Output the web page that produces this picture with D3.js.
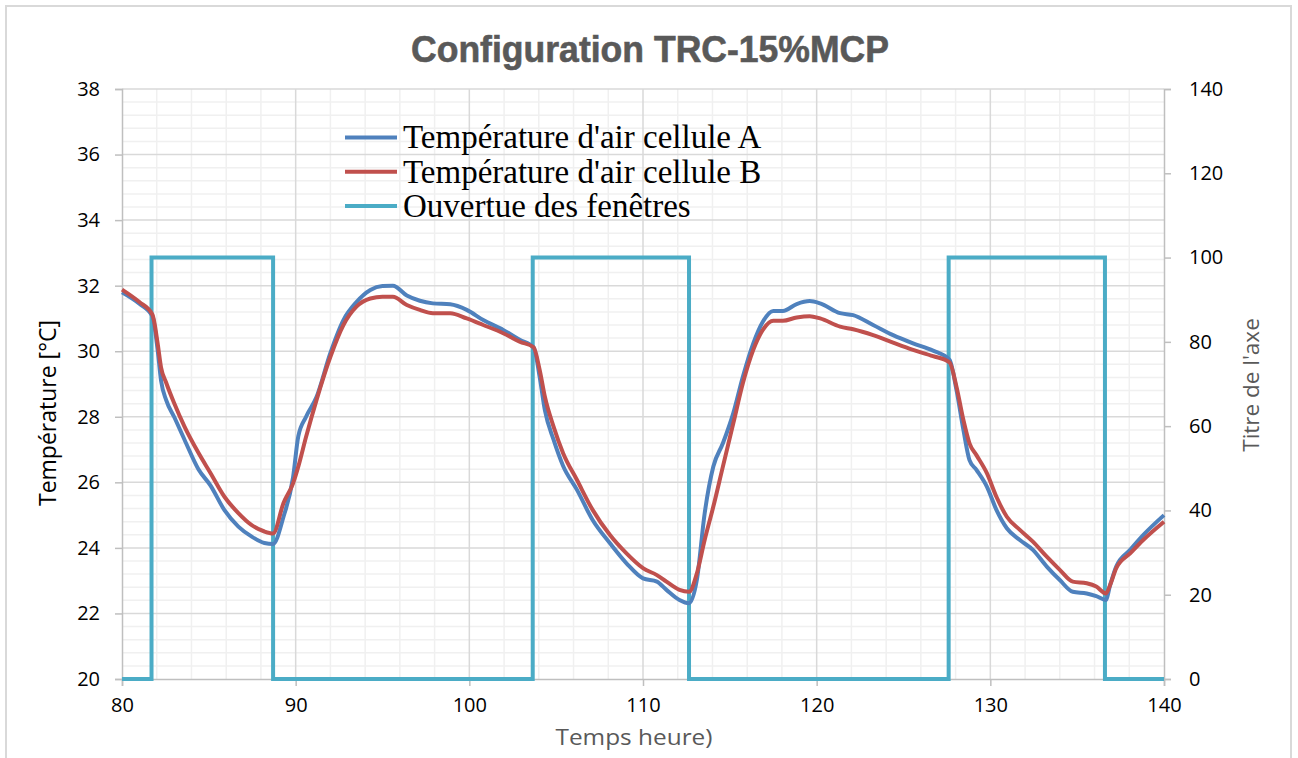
<!DOCTYPE html>
<html>
<head>
<meta charset="utf-8">
<script src="https://cdn.jsdelivr.net/npm/d3@7"></script>
<style>
    body { margin: 0; background: #fff; }
    svg { display: block; }
</style>
</head>
<body>
<svg id="chart" width="1298" height="758"></svg>
<script>
// data
var hours = [80, 81, 81.75, 82.05, 82.25, 82.55, 83.0, 83.6, 84.4, 85.1, 85.9, 86.7, 87.45, 88.2, 88.7,
    89.3, 89.85, 90.15, 90.6, 91.2, 92.0, 92.75, 93.5, 94.3, 95.0, 95.6, 96.4, 97.15, 97.9, 98.9, 99.85,
    100.8, 101.95, 102.9, 103.7, 104.05, 104.35, 104.85, 105.4, 106.2, 107.1, 108.1, 109.05, 110.0, 110.8,
    111.35, 112.1, 112.65, 113.1, 113.55, 114.05, 114.6, 115.2, 115.75, 116.35, 116.9, 117.5, 118.05, 118.85,
    119.6, 120.2, 121.35, 122.1, 123.25, 124.4, 125.55, 126.7, 127.65, 128.05, 128.45, 128.8, 129.2, 129.8,
    130.35, 130.95, 131.7, 132.45, 133.25, 134.0, 134.75, 135.55, 136.1, 136.65, 136.9, 137.25, 138.05, 138.8, 140]

var tempA = [31.8, 31.45, 31.07, 30.05, 29.1, 28.5, 28.0, 27.3, 26.4, 25.9, 25.15, 24.65, 24.35, 24.15, 24.12,
    24.95, 26.15, 27.4, 28.0, 28.6, 29.95, 30.95, 31.5, 31.87, 31.99, 32.0, 31.7, 31.54, 31.46, 31.43, 31.26,
    30.95, 30.65, 30.35, 30.12, 29.22, 28.2, 27.3, 26.5, 25.77, 24.85, 24.14, 23.53, 23.07, 22.97,
    22.72, 22.41, 22.31, 23.02, 25.05, 26.48, 27.19, 28.11, 29.22, 30.24, 30.9, 31.23, 31.23, 31.44,
    31.53, 31.46, 31.16, 31.1, 30.8, 30.49, 30.24, 30.02, 29.74, 28.82, 27.6, 26.68, 26.38, 25.87,
    25.16, 24.6, 24.24, 23.94, 23.43, 23.02, 22.66, 22.61, 22.53, 22.41, 22.87, 23.43, 23.94, 24.39, 25.0]

var tempB = [31.88, 31.5, 31.12, 30.25, 29.5, 29.03, 28.42, 27.7, 26.9, 26.28, 25.56, 25.06, 24.7, 24.5, 24.44,
    25.37, 25.97, 26.48, 27.39, 28.51, 29.83, 30.8, 31.36, 31.61, 31.66, 31.66, 31.41, 31.26, 31.16, 31.16, 31.0,
    30.8, 30.55, 30.29, 30.12, 29.43, 28.61, 27.7, 26.89, 26.07, 25.16, 24.39, 23.83, 23.38, 23.17,
    22.97, 22.72, 22.66, 23.22, 24.24, 25.26, 26.48, 27.8, 29.02, 30.04, 30.65, 30.93, 30.93, 31.03,
    31.07, 31.0, 30.75, 30.67, 30.49, 30.26, 30.04, 29.85, 29.66, 28.92, 27.9, 27.19, 26.83, 26.28,
    25.56, 24.95, 24.55, 24.19, 23.73, 23.33, 22.97, 22.92, 22.82, 22.61, 22.87, 23.38, 23.83, 24.24, 24.8]

// window opening (right axis), step after each hour
var windowHours = [80, 81.7, 88.7, 103.65, 112.65, 127.6, 136.6, 140]
var windowOpen = [0, 100, 0, 100, 0, 100, 0, 0]

var xTicks = [80, 90, 100, 110, 120, 130, 140]
var tempTicks = [20, 22, 24, 26, 28, 30, 32, 34, 36, 38]
var rightTicks = [0, 20, 40, 60, 80, 100, 120, 140]

var seriesNames = ["Température d'air cellule A", "Température d'air cellule B", "Ouvertue des fenêtres"]
var seriesColors = ["#4f81bd", "#c0504d", "#4bacc6"]

var plotLeft = 122, plotRight = 1164, plotTop = 89, plotBottom = 679

var svg = d3.select("#chart")

// outer frame
svg.append("rect")
    .attr("x", 6).attr("y", 6)
    .attr("width", 1285).attr("height", 780)
    .style("fill", "none")
    .style("stroke", "#d9d9d9")
    .style("stroke-width", 2)

var x = d3.scaleLinear().domain([80, 140]).range([plotLeft, plotRight])
var y = d3.scaleLinear().domain([20, 38]).range([plotBottom, plotTop])
var y2 = d3.scaleLinear().domain([0, 140]).range([plotBottom, plotTop])

// grid
var grid = svg.append("g")
grid.selectAll(".vminor")
    .data(d3.range(82, 140, 2).filter(function(d) { return d % 10 != 0 }))
    .enter().append("line")
    .attr("x1", x).attr("x2", x)
    .attr("y1", plotTop).attr("y2", plotBottom)
    .style("stroke", "#f0f0f0").style("stroke-width", 1.5)
grid.selectAll(".hminor")
    .data(d3.range(0, 45).map(function(i) { return 20 + i * 0.4 }).filter(function(d) { return Math.abs(d / 2 - Math.round(d / 2)) > 0.01 }))
    .enter().append("line")
    .attr("x1", plotLeft).attr("x2", plotRight)
    .attr("y1", y).attr("y2", y)
    .style("stroke", "#f0f0f0").style("stroke-width", 1.5)
grid.selectAll(".vmajor")
    .data(xTicks.slice(1, -1))
    .enter().append("line")
    .attr("x1", x).attr("x2", x)
    .attr("y1", plotTop).attr("y2", plotBottom)
    .style("stroke", "#d9d9d9").style("stroke-width", 1.5)
grid.selectAll(".hmajor")
    .data(tempTicks.slice(1))
    .enter().append("line")
    .attr("x1", plotLeft).attr("x2", plotRight)
    .attr("y1", y).attr("y2", y)
    .style("stroke", "#d9d9d9").style("stroke-width", 1.5)

// axes
var tickFont = "'Open Sans', sans-serif"

var xAxis = svg.append("g")
    .attr("transform", "translate(0," + plotBottom + ")")
    .call(d3.axisBottom(x).tickValues(xTicks).tickSize(7).tickPadding(12))
var yAxis = svg.append("g")
    .attr("transform", "translate(" + plotLeft + ",0)")
    .call(d3.axisLeft(y).tickValues(tempTicks).tickSize(7).tickPadding(15))
var y2Axis = svg.append("g")
    .attr("transform", "translate(" + plotRight + ",0)")
    .call(d3.axisRight(y2).tickValues(rightTicks).tickSize(7).tickPadding(18))

;[xAxis, yAxis, y2Axis].forEach(function(a) {
    a.select(".domain").style("stroke", "#bfbfbf").style("stroke-width", 1.5)
    a.selectAll(".tick line").style("stroke", "#bfbfbf").style("stroke-width", 1.5)
    a.selectAll(".tick text")
        .style("font-family", tickFont)
        .style("font-size", "20px")
        .style("fill", "#000")
})

// lines
var windowLine = d3.line()
    .x(function(d, i) { return x(windowHours[i]) })
    .y(function(d) { return y2(d) })
    .curve(d3.curveStepAfter)

svg.append("path")
    .datum(windowOpen)
    .attr("d", windowLine)
    .style("fill", "none")
    .style("stroke", seriesColors[2])
    .style("stroke-width", 4)

var tempLine = d3.line()
    .x(function(d, i) { return x(hours[i]) })
    .y(function(d) { return y(d) })
    .curve(d3.curveMonotoneX)

;[tempA, tempB].forEach(function(serie, k) {
    svg.append("path")
        .datum(serie)
        .attr("d", tempLine)
        .style("fill", "none")
        .style("stroke", seriesColors[k])
        .style("stroke-width", 4)
        .style("stroke-linejoin", "round")
})

// titles
svg.append("text")
    .attr("x", 650).attr("y", 62)
    .attr("text-anchor", "middle")
    .attr("textLength", 478)
    .attr("lengthAdjust", "spacingAndGlyphs")
    .style("font-family", "'Liberation Sans', Arial, sans-serif")
    .style("font-weight", "900")
    .style("font-size", "37px")
    .style("fill", "#595959")
    .style("stroke", "#595959")
    .style("stroke-width", 0.6)
    .text("Configuration TRC-15%MCP")

svg.append("text")
    .attr("transform", "translate(56,413) rotate(-90)")
    .attr("text-anchor", "middle")
    .style("font-family", tickFont)
    .style("font-size", "23px")
    .style("fill", "#000")
    .text("Température [°C]")

svg.append("text")
    .attr("transform", "translate(1259,385) rotate(-90)")
    .attr("text-anchor", "middle")
    .style("font-family", tickFont)
    .style("font-size", "22.5px")
    .style("fill", "#595959")
    .text("Titre de l'axe")

svg.append("text")
    .attr("x", 634).attr("y", 745)
    .attr("text-anchor", "middle")
    .style("font-family", tickFont)
    .style("font-size", "22px")
    .attr("textLength", 157)
    .attr("lengthAdjust", "spacingAndGlyphs")
    .style("fill", "#595959")
    .text("Temps heure)")

// legend
var legend = svg.selectAll(".legend")
    .data(seriesNames)
    .enter().append("g")
    .attr("class", "legend")
    .attr("transform", function(d, i) { return "translate(345," + (137.5 + i * 34.3) + ")" })

legend.append("line")
    .attr("x1", 0).attr("x2", 52)
    .style("stroke", function(d, i) { return seriesColors[i] })
    .style("stroke-width", 4)

legend.append("text")
    .attr("x", 58)
    .attr("dy", "0.33em")
    .style("font-family", "'Liberation Serif', 'Times New Roman', serif")
    .style("font-size", "33px")
    .style("fill", "#000")
    .text(function(d) { return d })
</script>
</body>
</html>
